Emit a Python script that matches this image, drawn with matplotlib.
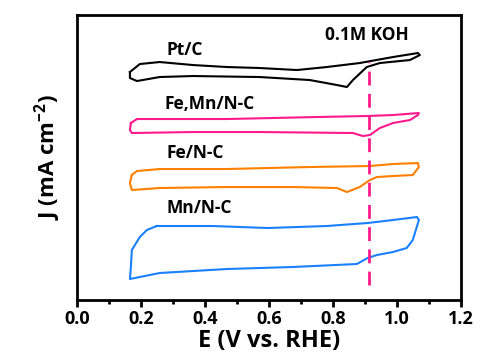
import matplotlib
matplotlib.use("Agg")
import matplotlib.pyplot as plt
from matplotlib.ticker import MultipleLocator

plt.rcParams['font.family'] = ['Open Sans', 'DejaVu Sans']
plt.rcParams['font.weight'] = 'bold'
plt.rcParams['mathtext.fontset'] = 'custom'
plt.rcParams['mathtext.bf'] = 'Open Sans:bold'
plt.rcParams['mathtext.rm'] = 'Open Sans:bold'

# CV loops (E in V, J in offset arbitrary units)
pt_E = [0.166, 0.197, 0.259, 0.363, 0.469, 0.572, 0.688, 0.781, 0.884, 0.988, 1.066, 1.072,
        1.041, 0.947, 0.906, 0.863, 0.844, 0.813, 0.728, 0.572, 0.363, 0.259, 0.188, 0.166, 0.166]
pt_J = [22.8, 23.6, 23.8, 23.5, 23.3, 23.2, 23.0, 23.3, 23.7, 24.3, 24.7, 24.5,
        24.0, 23.7, 23.3, 22.0, 21.3, 21.5, 22.0, 22.3, 22.4, 22.3, 21.9, 22.2, 22.8]

femn_E = [0.169, 0.188, 0.259, 0.469, 0.750, 0.906, 0.988, 1.069, 1.066, 1.041, 0.988, 0.947,
          0.916, 0.894, 0.863, 0.572, 0.363, 0.172, 0.166, 0.169]
femn_J = [17.7, 18.1, 18.1, 18.1, 18.3, 18.4, 18.5, 18.7, 18.5, 18.0, 17.7, 17.2,
          16.5, 16.4, 16.7, 16.8, 16.8, 16.7, 17.0, 17.7]

fe_E = [0.172, 0.188, 0.259, 0.469, 0.728, 0.916, 0.988, 1.066, 1.069, 1.050, 0.988, 0.938,
        0.916, 0.884, 0.844, 0.813, 0.675, 0.469, 0.259, 0.172, 0.166, 0.172]
fe_J = [12.5, 12.9, 13.1, 13.1, 13.3, 13.4, 13.6, 13.7, 13.3, 12.5, 12.4, 12.3,
        12.0, 11.3, 10.8, 11.2, 11.3, 11.3, 11.2, 11.0, 11.7, 12.5]

mn_E = [0.250, 0.425, 0.597, 0.781, 0.909, 0.988, 1.063, 1.069, 1.050, 1.031, 0.988, 0.938,
        0.909, 0.875, 0.675, 0.469, 0.259, 0.197, 0.166, 0.169, 0.172, 0.197, 0.219, 0.250]
mn_J = [7.4, 7.4, 7.2, 7.4, 7.7, 8.0, 8.3, 8.0, 6.0, 5.2, 4.8, 4.5,
        4.2, 3.6, 3.3, 3.1, 2.7, 2.3, 2.1, 3.3, 5.0, 6.3, 7.0, 7.4]

E_half = 0.9125
dash_J = [1.5, 23.8]

fig = plt.figure(figsize=(4.8, 3.58), dpi=100)
ax = fig.add_axes([0.160, 0.162, 0.800, 0.796])

ax.plot(pt_E, pt_J, color='black', lw=1.5)
ax.plot(femn_E, femn_J, color='#ff1a8c', lw=1.5)
ax.plot(fe_E, fe_J, color='#ff8000', lw=1.5)
ax.plot(mn_E, mn_J, color='#1a80ff', lw=1.5)
ax.vlines(E_half, dash_J[0], dash_J[1], colors='#ff1a8c', lw=2, linestyles=(0, (5, 3)))

ax.text(0.281, 25.0, 'Pt/C', fontsize=12.5, va='center', weight='bold')
ax.text(0.775, 26.5, '0.1M KOH', fontsize=12.5, va='center', weight='bold')
ax.text(0.275, 19.6, 'Fe,Mn/N-C', fontsize=12.5, va='center', weight='bold')
ax.text(0.281, 14.7, 'Fe/N-C', fontsize=12.5, va='center', weight='bold')
ax.text(0.281, 9.2, 'Mn/N-C', fontsize=12.5, va='center', weight='bold')

ax.set_xlim(0.0, 1.2)
ax.set_ylim(0, 28.5)
ax.xaxis.set_minor_locator(MultipleLocator(0.1))
ax.set_xticks([0.0, 0.2, 0.4, 0.6, 0.8, 1.0, 1.2])
ax.set_xticklabels(['0.0', '0.2', '0.4', '0.6', '0.8', '1.0', '1.2'])
ax.set_yticks([])
ax.tick_params(axis='x', which='major', direction='out', length=5, width=2, labelsize=13, pad=2)
ax.tick_params(axis='x', which='minor', direction='out', length=3, width=2)
for s in ax.spines.values():
    s.set_linewidth(2)

ax.set_xlabel('E (V vs. RHE)', fontsize=17, weight='bold', labelpad=1)
ax.set_ylabel('J (mA cm$^{\\mathbf{-2}}$)', fontsize=16, weight='bold', labelpad=10)

fig.savefig('out.png', dpi=100)
